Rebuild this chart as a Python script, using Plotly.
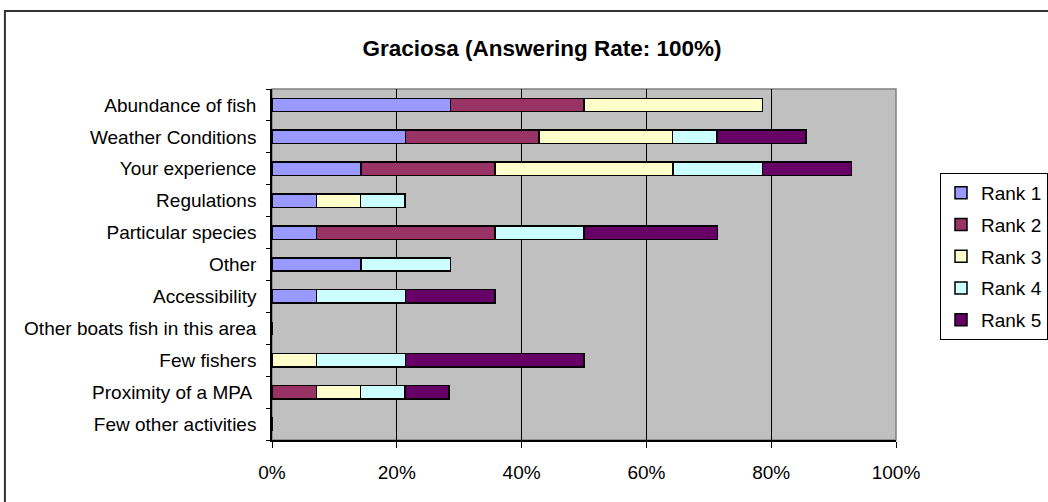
# Graciosa - reasons for choosing fishing grounds, stacked by rank
import plotly.graph_objects as go

# -----------------------------
# Data (percent of respondents)
# -----------------------------
categories = [
    "Abundance of fish",
    "Weather Conditions",
    "Your experience",
    "Regulations",
    "Particular species",
    "Other",
    "Accessibility",
    "Other boats fish in this area",
    "Few fishers",
    "Proximity of a MPA ",
    "Few other activities",
]

rank1 = [28.6, 21.4, 14.3, 7.1, 7.1, 14.3, 7.1, 0, 0, 0, 0]
rank2 = [21.4, 21.4, 21.4, 0, 28.6, 0, 0, 0, 0, 7.1, 0]
rank3 = [28.6, 21.4, 28.6, 7.1, 0, 0, 0, 0, 7.1, 7.1, 0]
rank4 = [0, 7.1, 14.3, 7.1, 14.3, 14.3, 14.3, 0, 14.3, 7.1, 0]
rank5 = [0, 14.3, 14.3, 0, 21.4, 0, 14.3, 0, 28.6, 7.1, 0]

series_names = ["Rank 1", "Rank 2", "Rank 3", "Rank 4", "Rank 5"]
series_values = [rank1, rank2, rank3, rank4, rank5]
series_colors = ["#9999FF", "#993366", "#FFFFCC", "#CCFFFF", "#660066"]

x_ticks = [0, 20, 40, 60, 80, 100]
x_tick_labels = ["0%", "20%", "40%", "60%", "80%", "100%"]

# -----------------------------
# Build figure
# -----------------------------
fig = go.Figure()
for name, vals, col in zip(series_names, series_values, series_colors):
    fig.add_trace(go.Bar(
        y=categories,
        x=vals,
        name=name,
        legendgroup=name,
        orientation="h",
        marker=dict(color=col, line=dict(color="black", width=1.5)),
    ))

font_family = "Arial, Liberation Sans, sans-serif"

fig.update_layout(
    barmode="stack",
    bargap=0.58,
    width=1048,
    height=502,
    margin=dict(l=272, r=152, t=89, b=62, autoexpand=False),
    paper_bgcolor="white",
    plot_bgcolor="#C0C0C0",
    font=dict(family=font_family, color="black", size=19),
    title=dict(
        text="<b>Graciosa (Answering Rate: 100%)</b>",
        x=542 / 1048, xanchor="center",
        y=1 - 48 / 502, yanchor="middle",
        font=dict(size=22.5, family=font_family),
    ),
    legend=dict(
        x=(940 - 272) / 624, y=0.7607, xanchor="left", yanchor="top",
        bordercolor="black", borderwidth=1, bgcolor="white",
        font=dict(size=19),
        traceorder="grouped",
        tracegroupgap=4,
    ),
    xaxis=dict(
        range=[0, 100],
        tickvals=x_ticks,
        ticktext=x_tick_labels,
        showgrid=True, gridcolor="black", gridwidth=1,
        showline=True, linecolor="black", linewidth=1.5,
        ticks="outside", ticklen=6, tickcolor="black",
        tickfont=dict(size=19),
        ticklabelstandoff=8,
        zeroline=False,
    ),
    yaxis=dict(
        categoryorder="array",
        categoryarray=categories[::-1],
        showgrid=False,
        showline=True, linecolor="black", linewidth=1.5,
        ticks="outside", ticklen=4, tickcolor="black",
        tickson="boundaries",
        ticklabelstandoff=10,
    ),
    showlegend=True,
)

# plot area border on top / right (grey) and outer chart frame
fig.add_shape(type="rect", xref="paper", yref="paper", x0=0, x1=1, y0=0, y1=1,
              line=dict(color="#808080", width=1.5), layer="below")
fig.add_shape(type="rect", xref="paper", yref="paper",
              x0=-0.428, x1=1.26, y0=-0.2, y1=1.222,
              line=dict(color="#333333", width=2))

# drop the default 8px body margin so the chart sits flush in the window
fig.write_html(
    "out.html",
    config={"displayModeBar": False},
    post_script="document.body.style.margin='0';document.body.style.overflow='hidden';",
)
